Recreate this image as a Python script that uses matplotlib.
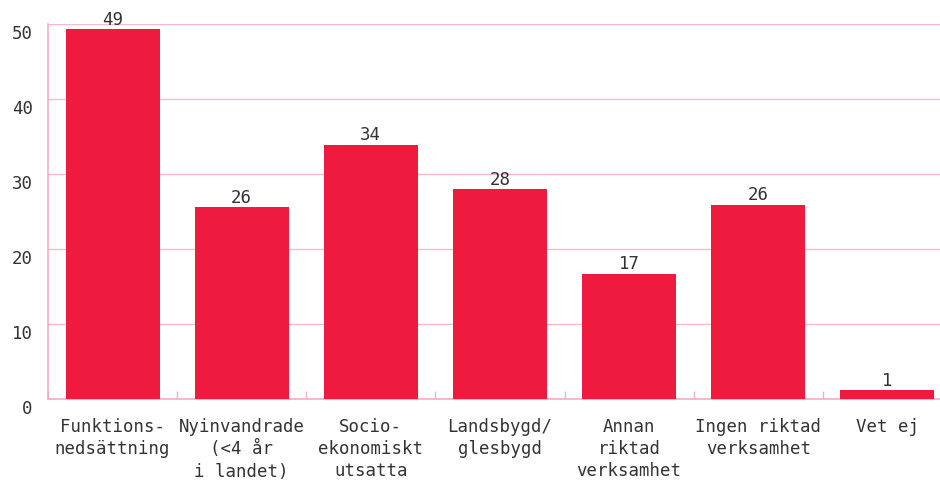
import numpy as np
import matplotlib.pyplot as plt

# data
categories = ["Funktions-\nnedsättning", "Nyinvandrade\n(<4 år\ni landet)",
              "Socio-\nekonomiskt\nutsatta", "Landsbygd/\nglesbygd",
              "Annan\nriktad\nverksamhet", "Ingen riktad\nverksamhet", "Vet ej"]
values = [49.3, 25.6, 33.9, 28.0, 16.7, 25.9, 1.2]
value_labels = ["49", "26", "34", "28", "17", "26", "1"]
yticks = [0, 10, 20, 30, 40, 50]

bar_color = '#ee1b3e'
grid_color = '#f7bcc7'
axis_color = '#f3aebb'
text_color = '#333333'

plt.rcParams['font.family'] = ['DejaVu Sans Mono', 'DejaVu Sans']

fig = plt.figure(figsize=(9.4, 4.81), dpi=100)
# axes runs a little past the right edge, like the reference (last band is cut)
ax = fig.add_axes([48 / 940, 81 / 481, 904 / 940, 375 / 481])

x = np.arange(len(categories))
ax.bar(x, values, width=0.727, color=bar_color, zorder=3)

for xi, v, lab in zip(x, values, value_labels):
    ax.annotate(lab, (xi, v), xytext=(0, 1), textcoords='offset points',
                ha='center', va='bottom', fontsize=12.5, color=text_color,
                zorder=4, annotation_clip=False)

ax.set_xlim(-0.5, len(categories) - 0.5)
ax.set_ylim(0, 50)

ax.set_yticks(yticks)
ax.set_yticklabels([str(t) for t in yticks], va='top')
ax.set_xticks(x)
ax.set_xticklabels(categories, linespacing=1.3, ha='center', multialignment='center')
ax.set_xticks(np.arange(len(categories) + 1) - 0.5, minor=True)

ax.tick_params(axis='y', length=0, pad=11, labelsize=12.5, labelcolor=text_color)
ax.tick_params(axis='x', which='major', length=0, pad=13, labelsize=12.5, labelcolor=text_color)
ax.tick_params(axis='x', which='minor', direction='in', length=6, width=1, color=axis_color)

ax.grid(axis='y', color=grid_color, linewidth=1, zorder=0)
for side in ['top', 'right']:
    ax.spines[side].set_visible(False)
for side in ['left', 'bottom']:
    ax.spines[side].set_color(axis_color)
    ax.spines[side].set_linewidth(1.2)

fig.savefig('out.png', dpi=100)
